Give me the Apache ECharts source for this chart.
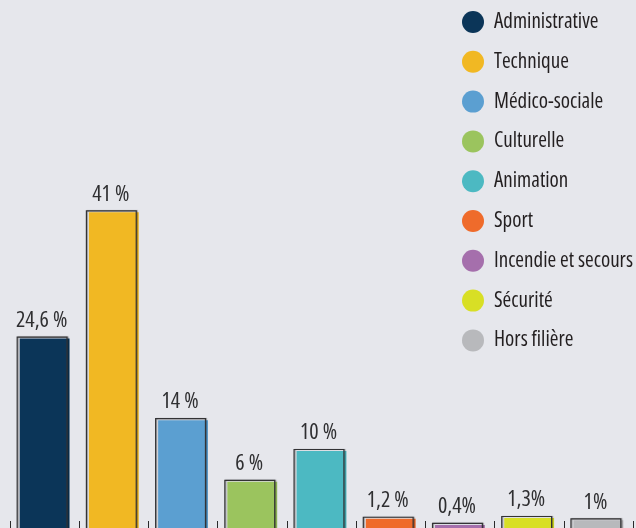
<!DOCTYPE html>
<html>
<head>
<meta charset="utf-8">
<script src="https://cdn.jsdelivr.net/npm/echarts@6/dist/echarts.min.js"></script>
<style>
  html, body { margin: 0; padding: 0; background: #e6e7ec; }
  #chart { width: 636px; height: 528px; }
</style>
</head>
<body>
<div id="chart"></div>
<script>
// Répartition par filière
const categories = ['Administrative', 'Technique', 'Médico-sociale', 'Culturelle', 'Animation', 'Sport', 'Incendie et secours', 'Sécurité', 'Hors filière'];
const values = [24.6, 41, 14, 6, 10, 1.2, 0.4, 1.3, 1];
const valueLabels = ['24,6 %', '41 %', '14 %', '6 %', '10 %', '1,2 %', '0,4%', '1,3%', '1%'];
const colors = ['#0b3558', '#f1b823', '#5b9fd1', '#9bc45e', '#4cb9c2', '#ef6b2b', '#a56fac', '#d8df25', '#b8b9bc'];

// Pick a narrow face: try the width variants of the installed sans families
// and keep the one whose proportions suit a condensed look best.
function pickNarrowFont() {
  const ctx = document.createElement('canvas').getContext('2d');
  const sample = 'Administrative';
  const wanted = 5.15; // width of the sample in em
  const candidates = [
    ['Noto Sans', 'condensed'], ['Noto Sans', 'semi-condensed'], ['Noto Sans', 'extra-condensed'],
    ['Open Sans', 'condensed'], ['Open Sans', 'semi-condensed'],
    ['DejaVu Sans', 'condensed']
  ];
  let best = candidates[candidates.length - 1];
  let bestErr = Infinity;
  let bestRatio = 6.5;
  candidates.forEach(c => {
    ctx.font = 'normal normal ' + c[1] + ' 100px \'' + c[0] + '\'';
    const r = ctx.measureText(sample).width / 100;
    const err = Math.abs(r - wanted);
    if (err < bestErr) { bestErr = err; best = c; bestRatio = r; }
  });
  return { family: '\'' + best[0] + '\', sans-serif', weight: 'normal ' + best[1], ratio: bestRatio };
}
const NARROW = pickNarrowFont();
const LABEL_SIZE = Math.min(22, Math.round(109 / NARROW.ratio * 2) / 2);
const LEGEND_SIZE = Math.min(21, Math.round(105 / NARROW.ratio * 2) / 2);

// Each bar: a coloured block with a thin dark frame shifted up-left over it
function renderBar(params, api) {
  const idx = api.value(0);
  const top = api.coord([idx, api.value(1)]);
  const base = api.coord([idx, 0]);
  const bw = api.size([1, 0])[0] * 0.72;
  const fx = top[0] - bw / 2;
  const h = base[1] - top[1];
  const ox = fx - 3;
  const oy = top[1] - 2;
  return {
    type: 'group',
    children: [
      { type: 'rect', shape: { x: fx, y: top[1], width: bw, height: h + 4 },
        style: { fill: api.visual('color') } },
      { type: 'rect', shape: { x: ox + 0.5, y: oy + 0.5, width: bw, height: h + 6 },
        style: { fill: null, stroke: '#333335', lineWidth: 1.2,
                 shadowColor: 'rgba(0,0,0,0.35)', shadowOffsetX: 1, shadowOffsetY: 0, shadowBlur: 1 } },
      { type: 'text',
        style: { text: valueLabels[idx], x: ox + bw / 2, y: oy - 5,
                 align: 'center', verticalAlign: 'bottom',
                 fontFamily: NARROW.family, fontWeight: NARROW.weight, fontSize: LABEL_SIZE, fill: '#2f2f31' } }
    ]
  };
}

const series = categories.map((name, i) => ({
  name: name,
  type: 'custom',
  renderItem: renderBar,
  itemStyle: { color: colors[i] },
  encode: { x: 0, y: 1 },
  data: [[i, values[i]]],
  silent: true
}));

const chart = echarts.init(document.getElementById('chart'), null, { renderer: 'canvas' });
chart.setOption({
  backgroundColor: '#e6e7ec',
  animation: false,
  color: colors,
  grid: { left: 10, right: 3, top: 66, bottom: -2, containLabel: false },
  legend: {
    orient: 'vertical',
    left: 462,
    top: 11,
    padding: 0,
    icon: 'circle',
    itemWidth: 22,
    itemHeight: 22,
    itemGap: 17.8,
    selectedMode: false,
    data: categories,
    textStyle: { fontFamily: NARROW.family, fontWeight: NARROW.weight, fontSize: LEGEND_SIZE, color: '#231f20', padding: [0, 0, 0, 5] }
  },
  xAxis: {
    type: 'category',
    data: categories,
    boundaryGap: true,
    axisLine: { show: false },
    axisTick: { show: true, inside: true, interval: 0, length: 7, lineStyle: { color: '#2a2a2a', width: 1 } },
    axisLabel: { show: false, interval: 0 },
    splitLine: { show: false }
  },
  yAxis: {
    type: 'value',
    min: 0,
    max: 60,
    show: false
  },
  series: series
});
</script>
</body>
</html>
